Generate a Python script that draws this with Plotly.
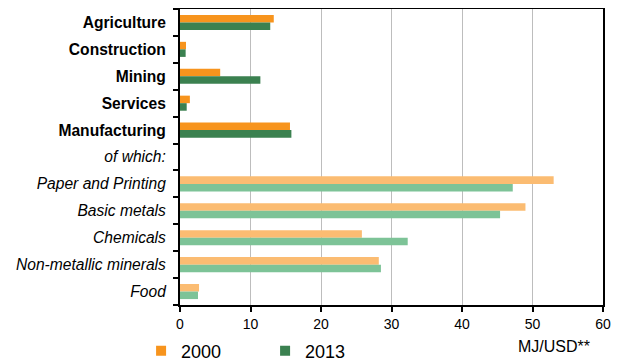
import plotly.graph_objects as go

categories = ["Agriculture", "Construction", "Mining", "Services", "Manufacturing",
              "of which:", "Paper and Printing", "Basic metals", "Chemicals",
              "Non-metallic minerals", "Food"]
tick_labels = ["<b>Agriculture</b>", "<b>Construction</b>", "<b>Mining</b>", "<b>Services</b>",
               "<b>Manufacturing</b>", "<i>of which:</i>", "<i>Paper and Printing</i>",
               "<i>Basic metals</i>", "<i>Chemicals</i>", "<i>Non-metallic minerals</i>", "<i>Food</i>"]
values_2000 = [13.3, 0.85, 5.7, 1.4, 15.6, None, 53.0, 49.0, 25.8, 28.2, 2.7]
values_2013 = [12.8, 0.8, 11.4, 0.95, 15.8, None, 47.2, 45.4, 32.3, 28.5, 2.55]
x_ticks = [0, 10, 20, 30, 40, 50, 60]

dark_or, light_or = "#F7941D", "#FBBC72"
dark_gr, light_gr = "#3B8150", "#7DC397"
colors_2000 = [dark_or] * 5 + [light_or] * 6
colors_2013 = [dark_gr] * 5 + [light_gr] * 6

fig = go.Figure()
fig.add_trace(go.Bar(y=categories, x=values_2000, orientation="h", name="2000",
                     marker=dict(color=colors_2000, line=dict(width=0)), showlegend=False))
fig.add_trace(go.Bar(y=categories, x=values_2013, orientation="h", name="2013",
                     marker=dict(color=colors_2013, line=dict(width=0)), showlegend=False))
fig.add_trace(go.Scatter(x=[None], y=[None], mode="markers", name="2000",
                         marker=dict(symbol="square", size=10, color=dark_or)))
fig.add_trace(go.Scatter(x=[None], y=[None], mode="markers", name="2013",
                         marker=dict(symbol="square", size=10, color=dark_gr)))

fig.update_layout(
    width=614, height=354,
    margin=dict(l=172, r=19, t=1, b=57, autoexpand=False),
    paper_bgcolor="white", plot_bgcolor="white",
    barmode="group", bargap=0.44, bargroupgap=0,
    font=dict(family="Liberation Sans, Arial, sans-serif", color="#000000"),
    legend=dict(orientation="h", x=-0.092, xanchor="left", y=-0.093, yanchor="top",
                font=dict(size=18), entrywidth=79, entrywidthmode="pixels",
                itemwidth=30, bgcolor="rgba(0,0,0,0)", tracegroupgap=0),
    annotations=[dict(text="MJ/USD**", xref="paper", yref="paper", x=0.974, y=-0.105,
                      xanchor="right", yanchor="top", showarrow=False,
                      font=dict(size=16, color="#000000"))],
)
fig.update_xaxes(range=[0, 60], tickvals=x_ticks, showgrid=True, gridcolor="#BDBDBD",
                 gridwidth=1, showline=True, linecolor="black", linewidth=2, mirror=True,
                 ticks="outside", ticklen=5, tickcolor="black", tickwidth=2,
                 tickfont=dict(size=14), zeroline=False, fixedrange=True)
fig.update_yaxes(categoryorder="array", categoryarray=categories, autorange="reversed",
                 tickvals=categories, ticktext=tick_labels, tickson="boundaries",
                 showline=True, linecolor="black", linewidth=2, mirror=True,
                 ticks="outside", ticklen=5, tickcolor="black", tickwidth=2,
                 tickfont=dict(size=15.6), ticklabelstandoff=9, showgrid=False)

fig.write_html("out.html")
